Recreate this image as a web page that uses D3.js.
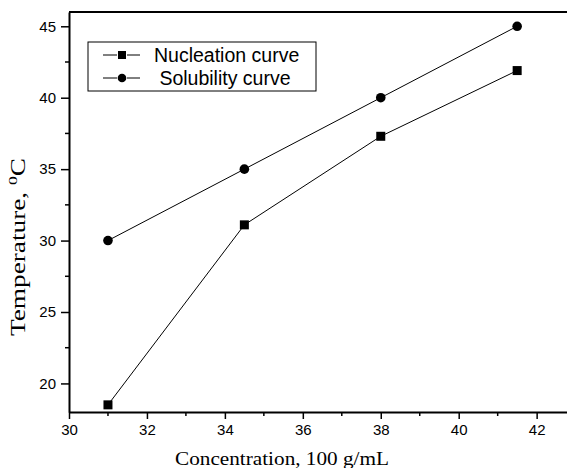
<!DOCTYPE html>
<html>
<head>
<meta charset="utf-8">
<script src="https://cdn.jsdelivr.net/npm/d3@7"></script>
<style>
  body { margin: 0; background: #fff; }
  .tick text { font-family: "Liberation Sans", Arial, sans-serif; font-size: 15px; fill: #000; }
</style>
</head>
<body>
<div id="chart"></div>
<script>
    // data
    const concentration = [31, 34.5, 38, 41.5];
    const nucleation = [18.5, 31.1, 37.3, 41.9];
    const solubility = [30, 35, 40, 45];
    const xTicks = [30, 32, 34, 36, 38, 40, 42];
    const yTicks = [20, 25, 30, 35, 40, 45];

    const W = 567, H = 468;
    const margin = {top: 12, left: 69, bottom: 56};

    const svg = d3.select("#chart").append("svg")
        .attr("width", W).attr("height", H);

    const x = d3.scaleLinear().domain([30, 43]).range([margin.left, margin.left + 13 * 38.97]);
    const y = d3.scaleLinear().domain([18, 46]).range([H - margin.bottom, margin.top]);

    // top border
    svg.append("line")
        .attr("x1", margin.left).attr("x2", W)
        .attr("y1", y(46)).attr("y2", y(46))
        .attr("stroke", "#000").attr("stroke-width", 2);

    // minor ticks
    const xMinor = d3.range(31, 43, 2);
    const yMinor = d3.range(22.5, 46, 5);
    svg.append("g").selectAll("line").data(xMinor).join("line")
        .attr("x1", d => x(d)).attr("x2", d => x(d))
        .attr("y1", y(18)).attr("y2", y(18) + 4)
        .attr("stroke", "#000").attr("stroke-width", 1.5);
    svg.append("g").selectAll("line").data(yMinor).join("line")
        .attr("x1", x(30)).attr("x2", x(30) - 4)
        .attr("y1", d => y(d)).attr("y2", d => y(d))
        .attr("stroke", "#000").attr("stroke-width", 1.5);

    const xAxis = svg.append("g")
        .attr("transform", "translate(0," + y(18) + ")")
        .call(d3.axisBottom(x).tickValues(xTicks).tickSize(7).tickPadding(5).tickSizeOuter(0));
    const yAxis = svg.append("g")
        .attr("transform", "translate(" + x(30) + ",0)")
        .call(d3.axisLeft(y).tickValues(yTicks).tickSize(8).tickPadding(5).tickSizeOuter(0));
    [xAxis, yAxis].forEach(a => {
        a.select(".domain").attr("stroke-width", 2);
        a.selectAll(".tick line").attr("stroke-width", 1.5);
    });

    const line = d3.line()
        .x((d, i) => x(concentration[i]))
        .y(d => y(d));

    svg.append("path").datum(nucleation)
        .attr("d", line).attr("fill", "none").attr("stroke", "#000").attr("stroke-width", 1);
    svg.append("path").datum(solubility)
        .attr("d", line).attr("fill", "none").attr("stroke", "#000").attr("stroke-width", 1);

    svg.append("g").selectAll("rect").data(nucleation).join("rect")
        .attr("x", (d, i) => x(concentration[i]) - 4.5)
        .attr("y", d => y(d) - 4.5)
        .attr("width", 9).attr("height", 9).attr("fill", "#000");
    svg.append("g").selectAll("circle").data(solubility).join("circle")
        .attr("cx", (d, i) => x(concentration[i]))
        .attr("cy", d => y(d))
        .attr("r", 4.8).attr("fill", "#000");

    // legend
    const lg = svg.append("g");
    lg.append("rect")
        .attr("x", 88).attr("y", 42).attr("width", 228).attr("height", 49)
        .attr("fill", "#fff").attr("stroke", "#000").attr("stroke-width", 1);
    const entries = [
        {label: "Nucleation curve", shape: "square", cy: 55},
        {label: " Solubility curve", shape: "circle", cy: 78}
    ];
    entries.forEach(e => {
        lg.append("line").attr("x1", 103).attr("x2", 117)
            .attr("y1", e.cy).attr("y2", e.cy).attr("stroke", "#000").attr("stroke-width", 1);
        lg.append("line").attr("x1", 127).attr("x2", 140)
            .attr("y1", e.cy).attr("y2", e.cy).attr("stroke", "#000").attr("stroke-width", 1);
        if (e.shape === "square") {
            lg.append("rect").attr("x", 122 - 4).attr("y", e.cy - 4)
                .attr("width", 8).attr("height", 8).attr("fill", "#000");
        } else {
            lg.append("circle").attr("cx", 122).attr("cy", e.cy).attr("r", 4.3).attr("fill", "#000");
        }
        lg.append("text").attr("x", 154).attr("y", e.cy + 7)
            .attr("xml:space", "preserve")
            .style("font-family", "'Liberation Sans', Arial, sans-serif")
            .style("font-size", "19.5px")
            .text(e.label);
    });

    // axis titles
    svg.append("text")
        .attr("x", 282).attr("y", 465)
        .attr("text-anchor", "middle")
        .attr("textLength", 214).attr("lengthAdjust", "spacingAndGlyphs")
        .style("font-family", "'Liberation Serif', 'Times New Roman', serif")
        .style("font-size", "18.5px")
        .text("Concentration, 100 g/mL");

    const yt = svg.append("text")
        .attr("transform", "translate(25,247) rotate(-90)")
        .attr("text-anchor", "middle")
        .attr("textLength", 178).attr("lengthAdjust", "spacingAndGlyphs")
        .style("font-family", "'Liberation Serif', 'Times New Roman', serif")
        .style("font-size", "20px");
    yt.append("tspan").text("Temperature, ");
    yt.append("tspan").attr("dy", -8).style("font-size", "13px").text("0");
    yt.append("tspan").attr("dy", 8).text("C");
</script>
</body>
</html>
